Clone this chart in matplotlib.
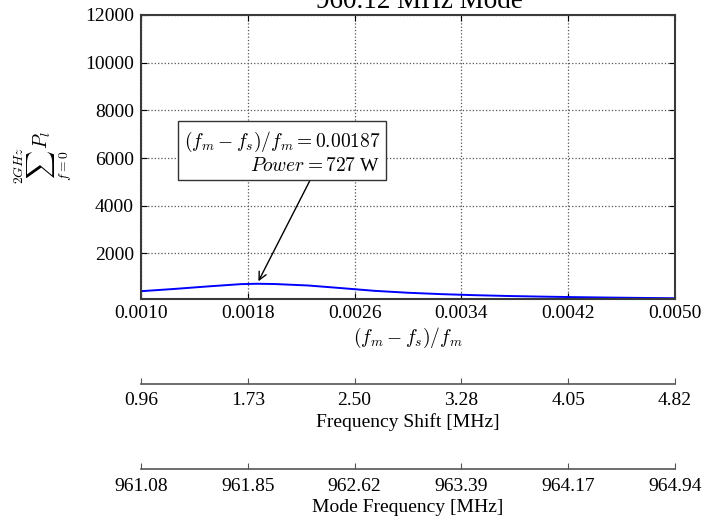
import matplotlib
matplotlib.use("Agg")
import matplotlib.pyplot as plt
from matplotlib.ticker import FormatStrFormatter

plt.rcParams.update({
    "font.family": "serif",
    "font.serif": ["Liberation Serif", "DejaVu Serif"],
    "mathtext.fontset": "cm",
    "font.size": 14,
    "xtick.direction": "in",
    "ytick.direction": "in",
    "xtick.top": True,
    "ytick.right": True,
    "xtick.major.size": 4,
    "ytick.major.size": 4,
    "xtick.major.pad": 4,
    "ytick.major.pad": 5,
})

# Normalised frequency offset (f_m - f_s)/f_m and summed power over 0..2 GHz
offset = [0.0010, 0.00125, 0.0015, 0.00175, 0.00187, 0.0020, 0.00225, 0.0025,
          0.00275, 0.0030, 0.00325, 0.0035, 0.00375, 0.0040, 0.00425, 0.0045,
          0.00475, 0.0050]
power = [415, 510, 615, 712, 727, 716, 655, 545, 430, 350, 292, 248, 214,
         188, 166, 148, 133, 120]

peak_offset = 0.00187
peak_power = 727

x_ticks = [0.0010, 0.0018, 0.0026, 0.0034, 0.0042, 0.0050]
y_ticks = [2000, 4000, 6000, 8000, 10000, 12000]
shift_labels = ["0.96", "1.73", "2.50", "3.28", "4.05", "4.82"]
mode_labels = ["961.08", "961.85", "962.62", "963.39", "964.17", "964.94"]

fig = plt.figure(figsize=(7.05, 5.19), dpi=100)
ax = fig.add_axes([0.2, 0.4233, 0.7574, 0.5478])

ax.plot(offset, power, color="#0000ff", lw=1.4)
ax.set_xlim(0.0010, 0.0050)
ax.set_ylim(75, 12000)
ax.set_xticks(x_ticks)
ax.set_yticks(y_ticks)
ax.xaxis.set_major_formatter(FormatStrFormatter("%.4f"))
ax.grid(True, linestyle=":", color="#555555", lw=0.9)
for sp in ax.spines.values():
    sp.set_linewidth(1.5)
    sp.set_color("#3a3a3a")

ax.set_title("960.12 MHz Mode", fontsize=19.5, pad=5, x=0.5215)
ax.set_xlabel(r"$(f_m - f_s)/f_m$", fontsize=14, labelpad=3)
ax.set_ylabel(r"$\sum_{f=0}^{2GHz} P_l$", fontsize=14)
ax.yaxis.set_label_coords(-0.125, 0.5)

ax.annotate(r"$(f_m - f_s)/f_m = 0.00187$" + "\n" + r"$Power = 727$ W",
            xy=(peak_offset, peak_power), xytext=(0.002057, 6250),
            ha="center", va="center", multialignment="right", fontsize=14,
            bbox=dict(boxstyle="square,pad=0.3", fc="white", ec="#333333", lw=1),
            arrowprops=dict(arrowstyle="->", color="black", lw=1,
                            relpos=(0.657, 0.0), shrinkA=0, shrinkB=2))

# Frequency shift and absolute mode frequency scales below the main axis
for loc, labels, title in [(-0.298, shift_labels, "Frequency Shift [MHz]"),
                           (-0.598, mode_labels, "Mode Frequency [MHz]")]:
    sec = ax.secondary_xaxis(loc)
    sec.set_xticks(x_ticks, labels)
    sec.tick_params(direction="in", length=4, color="#555555", pad=6)
    sec.spines["bottom"].set_color("#555555")
    sec.spines["bottom"].set_linewidth(1.2)
    sec.set_xlabel(title, fontsize=14, labelpad=3)

fig.savefig("out.png", dpi=100)
